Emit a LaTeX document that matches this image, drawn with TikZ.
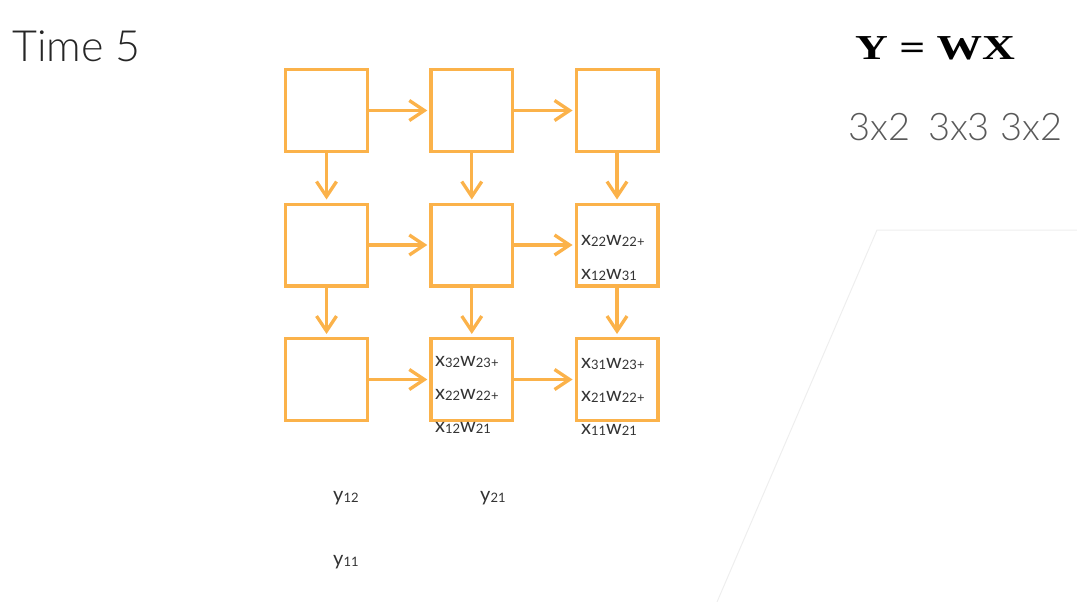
\documentclass[tikz,border=0pt]{standalone}
\usepackage{fontspec}
\usepackage{graphicx}
\IfFontExistsTF{Lato Light}{\setmainfont{Lato Light}}{\setmainfont{Lato}}
\newfontfamily\termfont{Lato}
\newfontfamily\eqfont{Liberation Serif}
\usetikzlibrary{arrows.meta}
% Subscripts are set smaller and a little lower
\newcommand\sbs[1]{\raisebox{-1.5pt}{\fontsize{13}{13}\selectfont #1}}

\begin{document}
\begin{tikzpicture}[x=1pt,y=-1pt,
  cell/.style={draw=cellorange,line width=3.3pt,minimum size=81.7pt,inner sep=0pt},
  flow/.style={draw=cellorange,line width=3.3pt,-{Straight Barb[length=15pt,width=20pt]}},
  term/.style={anchor=base west,inner sep=0pt,text=termgray,font=\termfont\fontsize{20}{20}\selectfont}]
\definecolor{cellorange}{HTML}{FBB24A}
\definecolor{termgray}{HTML}{333333}
\definecolor{titlegray}{HTML}{262626}
\definecolor{dimgray}{HTML}{595959}
\definecolor{edgegray}{HTML}{EEEEEE}
\useasboundingbox (0,0) rectangle (1077,602);
% Faint outline on the right
\draw[edgegray,line width=1pt] (717,602) -- (877,230) -- (1077,230);
% The 3x3 grid of cells
\foreach \r in {1,2,3}
  \foreach \c in {1,2,3}
    \node[cell] (c\r\c) at ({326.5+145.25*(\c-1)},{110.5+134.5*(\r-1)}) {};
% Data moves right and down
\foreach \r in {1,2,3}
  \foreach \c/\n in {1/2,2/3}
    \draw[flow,shorten >=2pt] (c\r\c) -- (c\r\n);
\foreach \r/\s in {1/2,2/3}
  \foreach \c in {1,2,3}
    \draw[flow,shorten >=3pt] (c\r\c) -- (c\s\c);
% Partial sums in the cells
\foreach \t [count=\i] in {x\sbs{22}w\sbs{22+}, x\sbs{12}w\sbs{31}}
  \node[term] (p23-\i) at (581,{245+34*(\i-1)}) {\t};
\foreach \t [count=\i] in {x\sbs{32}w\sbs{23+}, x\sbs{22}w\sbs{22+}, x\sbs{12}w\sbs{21}}
  \node[term] (p32-\i) at (435,{366+33*(\i-1)}) {\t};
\foreach \t [count=\i] in {x\sbs{31}w\sbs{23+}, x\sbs{21}w\sbs{22+}, x\sbs{11}w\sbs{21}}
  \node[term] (p33-\i) at (581,{368+33*(\i-1)}) {\t};
% Finished outputs
\node[term] (y12) at (333,501) {y\sbs{12}};
\node[term] (y21) at (480,501) {y\sbs{21}};
\node[term] (y11) at (333,565) {y\sbs{11}};
% Title and equation
\node[anchor=base west,inner sep=0pt,text=titlegray,font=\fontsize{43}{43}\selectfont] (time) at (12,61.7) {Time 5};
\node[anchor=base west,inner sep=0pt,font=\eqfont\bfseries\fontsize{35}{35}\selectfont] (eq) at (855,60) {\scalebox{1.3}[1]{Y = WX}};
\node[anchor=base west,inner sep=0pt,text=dimgray,font=\fontsize{38}{38}\selectfont] (dims) at (848,140) {3x2\hspace{18pt}3x3 3x2};
\end{tikzpicture}
\end{document}
